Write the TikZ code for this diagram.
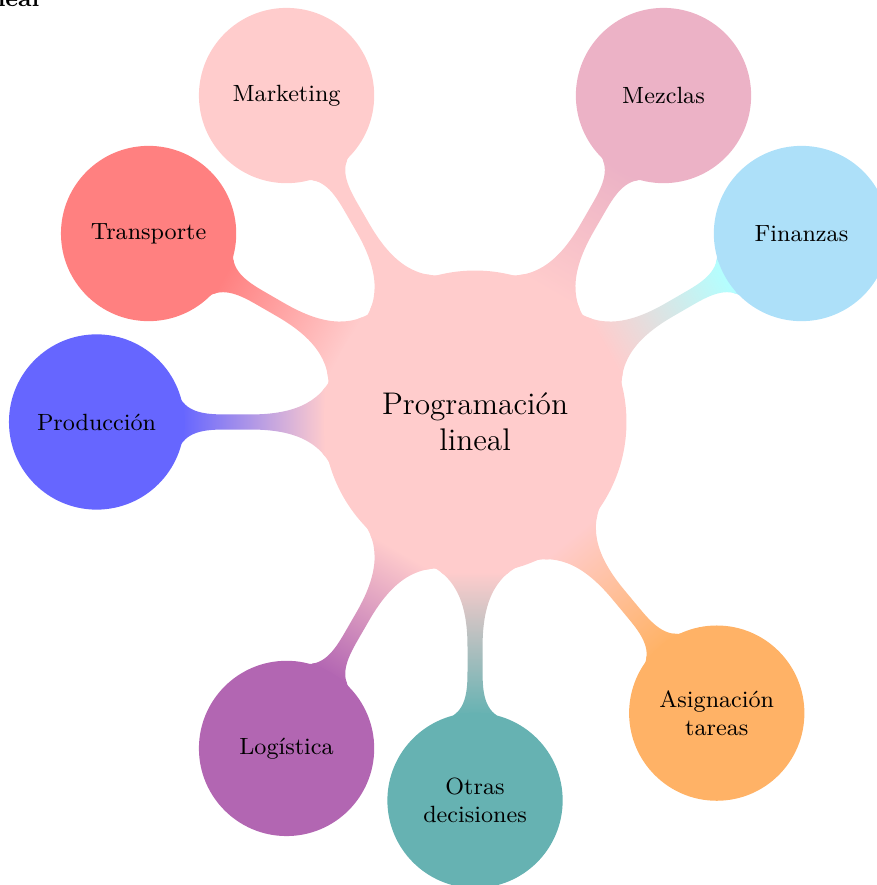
\documentclass[tikz,border=0pt]{standalone}
\usepackage{tikz}
\usetikzlibrary{mindmap,backgrounds}
\definecolor{finblue}{HTML}{ADE0F9}

\begin{document}
\begin{tikzpicture}[
  core/.style={concept,concept color=red!20,fill=red!20,minimum size=4.04cm,text width=3.2cm,inner sep=1pt,font=\large},
  topic/.style={concept,concept color=#1,fill=#1,minimum size=2.32cm,text width=2cm,inner sep=1pt,font=\small},
  link/.style={circle connection bar switch color=from (red!20) to (#1)}
]
  \useasboundingbox (-6.402,-6.240) rectangle (5.404,5.687);
  \node[font=\small\bfseries,text=black,anchor=base east,inner sep=0pt] (title) at (-5.863,5.606) {Programación lineal};
  \begin{scope}[mindmap]
    \node[core] (pl) at (0,0) {Programación lineal};
    \node[topic=red!20] (mkt) at (120:5.08) {Marketing};
    \node[topic=purple!30] (mez) at (60:5.08) {Mezclas};
    \node[topic=red!50] (tra) at (150:5.08) {Transporte};
    \node[topic=finblue] (fin) at (30:5.08) {Finanzas};
    \node[topic=blue!60] (pro) at (180:5.1) {Producción};
    \node[topic=violet!60] (log) at (240:5.08) {Logística};
    \node[topic=teal!60] (otr) at (270:5.1) {Otras decisiones};
    \node[topic=orange!60] (asi) at (-50.3:5.1) {Asignación tareas};
    \begin{scope}[on background layer]
      \path (pl) to[link=red!20] (mkt); \path (pl) to[link=purple!30] (mez);
      \path (pl) to[link=red!50] (tra); \path (pl) to[link=cyan!30] (fin);
      \path (pl) to[link=blue!60] (pro); \path (pl) to[link=violet!60] (log);
      \path (pl) to[link=teal!60] (otr); \path (pl) to[link=orange!60] (asi);
    \end{scope}
  \end{scope}
\end{tikzpicture}
\end{document}
